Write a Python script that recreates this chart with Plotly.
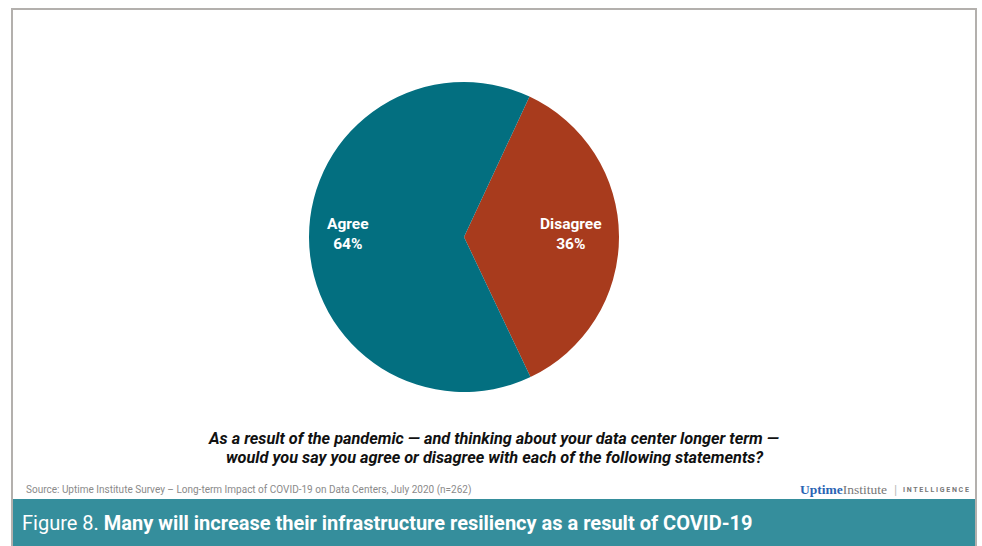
import math
import plotly.graph_objects as go

labels = ["Disagree", "Agree"]
values = [36, 64]
colors = ["#A83B1D", "#036F80"]
rotation = 25

W, H = 982, 546
CX, CY, R = 464, 237, 155

def px(x):
    return x / W

def py(y):
    return 1 - y / H

fig = go.Figure()
fig.add_trace(go.Pie(
    labels=labels, values=values, sort=False, direction="clockwise", rotation=rotation,
    marker=dict(colors=colors, line=dict(width=0)),
    textinfo="none",
    showlegend=False, hoverinfo="label+percent",
    domain=dict(x=[px(CX - R), px(CX + R)], y=[py(CY + R), py(CY - R)]),
))

# slice labels placed along each slice's mid angle
total = sum(values)
annotations = []
start = rotation
radial = {"Disagree": 0.69, "Agree": 0.75}
for lab, v in zip(labels, values):
    sweep = 360 * v / total
    mid = math.radians(start + sweep / 2)
    rr = radial[lab] * R
    x = CX + rr * math.sin(mid)
    y = CY - rr * math.cos(mid)
    annotations.append(dict(
        text=f"<b>{lab}<br>{round(100 * v / total)}%</b>",
        x=px(x), y=py(y - 3), xref="paper", yref="paper", showarrow=False,
        xanchor="center", yanchor="middle", align="center",
        font=dict(family="Roboto", size=15.5, color="white")))
    start += sweep

shapes = [
    dict(type="rect", xref="paper", yref="paper", x0=px(12), x1=px(976), y0=py(546), y1=py(9),
         line=dict(color="#B3B0AD", width=2), fillcolor="rgba(0,0,0,0)", layer="below"),
    dict(type="rect", xref="paper", yref="paper", x0=px(13), x1=px(975), y0=py(546), y1=py(499),
         line=dict(width=0), fillcolor="#358E9C"),
]

annotations += [
    dict(text="<b><i>As a result of the pandemic — and thinking about your data center longer term —</i></b>",
         x=px(493), y=py(438), xref="paper", yref="paper", showarrow=False, xanchor="center", yanchor="middle",
         font=dict(family="Roboto", size=16.3, color="#111111")),
    dict(text="<b><i>would you say you agree or disagree with each of the following statements?</i></b>",
         x=px(495), y=py(457), xref="paper", yref="paper", showarrow=False, xanchor="center", yanchor="middle",
         font=dict(family="Roboto", size=16.3, color="#111111")),
    dict(text="Source: Uptime Institute Survey – Long-term Impact of COVID-19 on Data Centers, July 2020 (n=262)",
         x=px(24), y=py(490), xref="paper", yref="paper", showarrow=False, xanchor="left", yanchor="middle",
         font=dict(family="Roboto", size=10, color="#8A8A8A")),
    dict(text="<b><span style='color:#2A64B4'>Uptime</span></b><span style='color:#777777'>Institute</span>",
         x=px(889), y=py(489), xref="paper", yref="paper", showarrow=False, xanchor="right", yanchor="middle",
         font=dict(family="Liberation Serif", size=13.5, color="#777777")),
    dict(text="|", x=px(895), y=py(489), xref="paper", yref="paper", showarrow=False, xanchor="center", yanchor="middle",
         font=dict(family="Roboto", size=13, color="#BBBBBB")),
    dict(text="<b>I N T E L L I G E N C E</b>",
         x=px(971), y=py(490), xref="paper", yref="paper", showarrow=False, xanchor="right", yanchor="middle",
         font=dict(family="Roboto", size=7, color="#777777")),
    dict(text="Figure 8. <b>Many will increase their infrastructure resiliency as a result of COVID-19</b>",
         x=px(20), y=py(523), xref="paper", yref="paper", showarrow=False, xanchor="left", yanchor="middle",
         font=dict(family="Roboto", size=20, color="white")),
]

fig.update_layout(
    width=W, height=H, margin=dict(l=0, r=0, t=0, b=0),
    paper_bgcolor="white", plot_bgcolor="white",
    shapes=shapes, annotations=annotations,
)

fig.write_html("out.html", config={"displayModeBar": False},
               post_script="document.body.style.margin='0';document.body.style.overflow='hidden';")
